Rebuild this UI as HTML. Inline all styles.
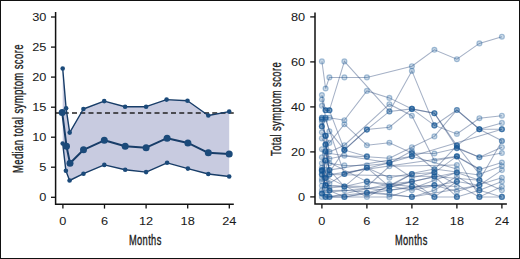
<!DOCTYPE html>
<html><head><meta charset="utf-8"><style>
html,body{margin:0;padding:0;background:#fff;}
#w{position:relative;width:520px;height:259px;overflow:hidden;background:#fff;}
#b{position:absolute;left:0;top:0;width:518px;height:257px;border:1px solid #111;}
svg{position:absolute;left:0;top:0;}
.t{font-family:"Liberation Sans",sans-serif;font-size:11.8px;fill:#1a1a1a;stroke:#1a1a1a;stroke-width:0.05px;}
.c{font-family:"Liberation Sans",sans-serif;font-size:14.5px;letter-spacing:0.6px;fill:#1a1a1a;stroke:#1a1a1a;stroke-width:0.35px;}
</style></head><body><div id="w"><div id="b"></div>
<svg width="520" height="259" viewBox="0 0 520 259">
<polygon points="62.7,68.5 66.1,108.3 69.7,132.6 83.4,109.0 104.2,101.1 125.1,106.7 146.1,106.7 166.6,99.6 187.5,100.8 208.3,115.5 229.2,111.6 229.2,176.5 208.3,174.0 187.9,168.6 167.1,162.8 146.1,172.1 125.2,169.8 104.3,164.9 83.5,173.7 69.6,180.5 65.9,170.8 62.7,143.5" fill="#c8cbe0"/>
<line x1="55.5" y1="113" x2="233.8" y2="113" stroke="#222" stroke-width="1.6" stroke-dasharray="5 3.25" stroke-dashoffset="0"/>
<polyline points="62.7,68.5 66.1,108.3 69.7,132.6 83.4,109.0 104.2,101.1 125.1,106.7 146.1,106.7 166.6,99.6 187.5,100.8 208.3,115.5 229.2,111.6" fill="none" stroke="#183d68" stroke-width="1.4" stroke-linejoin="round"/>
<circle cx="62.7" cy="68.5" r="2.3" fill="#1b4a7a"/>
<circle cx="66.1" cy="108.3" r="2.3" fill="#1b4a7a"/>
<circle cx="69.7" cy="132.6" r="2.3" fill="#1b4a7a"/>
<circle cx="83.4" cy="109" r="2.3" fill="#1b4a7a"/>
<circle cx="104.2" cy="101.1" r="2.3" fill="#1b4a7a"/>
<circle cx="125.1" cy="106.7" r="2.3" fill="#1b4a7a"/>
<circle cx="146.1" cy="106.7" r="2.3" fill="#1b4a7a"/>
<circle cx="166.6" cy="99.6" r="2.3" fill="#1b4a7a"/>
<circle cx="187.5" cy="100.8" r="2.3" fill="#1b4a7a"/>
<circle cx="208.3" cy="115.5" r="2.3" fill="#1b4a7a"/>
<circle cx="229.2" cy="111.6" r="2.3" fill="#1b4a7a"/>
<polyline points="62.7,143.5 65.9,170.8 69.6,180.5 83.5,173.7 104.3,164.9 125.2,169.8 146.1,172.1 167.1,162.8 187.9,168.6 208.3,174.0 229.2,176.5" fill="none" stroke="#183d68" stroke-width="1.4" stroke-linejoin="round"/>
<circle cx="62.7" cy="143.5" r="2.3" fill="#1b4a7a"/>
<circle cx="65.9" cy="170.8" r="2.3" fill="#1b4a7a"/>
<circle cx="69.6" cy="180.5" r="2.3" fill="#1b4a7a"/>
<circle cx="83.5" cy="173.7" r="2.3" fill="#1b4a7a"/>
<circle cx="104.3" cy="164.9" r="2.3" fill="#1b4a7a"/>
<circle cx="125.2" cy="169.8" r="2.3" fill="#1b4a7a"/>
<circle cx="146.1" cy="172.1" r="2.3" fill="#1b4a7a"/>
<circle cx="167.1" cy="162.8" r="2.3" fill="#1b4a7a"/>
<circle cx="187.9" cy="168.6" r="2.3" fill="#1b4a7a"/>
<circle cx="208.3" cy="174" r="2.3" fill="#1b4a7a"/>
<circle cx="229.2" cy="176.5" r="2.3" fill="#1b4a7a"/>
<polyline points="62.2,112.6 66.5,146.2 70.0,163.3 83.5,149.8 104.3,140.3 125.2,146.3 146.1,147.7 167.1,138.2 187.9,142.9 208.3,152.8 229.2,154.0" fill="none" stroke="#183d68" stroke-width="2.0" stroke-linejoin="round"/>
<circle cx="62.2" cy="112.6" r="3.5" fill="#1b4a7a"/>
<circle cx="66.5" cy="146.2" r="3.5" fill="#1b4a7a"/>
<circle cx="70" cy="163.3" r="3.5" fill="#1b4a7a"/>
<circle cx="83.5" cy="149.8" r="3.5" fill="#1b4a7a"/>
<circle cx="104.3" cy="140.3" r="3.5" fill="#1b4a7a"/>
<circle cx="125.2" cy="146.3" r="3.5" fill="#1b4a7a"/>
<circle cx="146.1" cy="147.7" r="3.5" fill="#1b4a7a"/>
<circle cx="167.1" cy="138.2" r="3.5" fill="#1b4a7a"/>
<circle cx="187.9" cy="142.9" r="3.5" fill="#1b4a7a"/>
<circle cx="208.3" cy="152.8" r="3.5" fill="#1b4a7a"/>
<circle cx="229.2" cy="154" r="3.5" fill="#1b4a7a"/>
<path d="M55.6 12 V204.3 H233.8" fill="none" stroke="#111" stroke-width="1.5"/>
<line x1="51" y1="197.3" x2="55.6" y2="197.3" stroke="#111" stroke-width="1.3"/>
<text transform="translate(46.3,201.3) scale(1.08,1)" text-anchor="end" class="t">0</text>
<line x1="51" y1="167.2" x2="55.6" y2="167.2" stroke="#111" stroke-width="1.3"/>
<text transform="translate(46.3,171.2) scale(1.08,1)" text-anchor="end" class="t">5</text>
<line x1="51" y1="137.2" x2="55.6" y2="137.2" stroke="#111" stroke-width="1.3"/>
<text transform="translate(46.3,141.2) scale(1.08,1)" text-anchor="end" class="t">10</text>
<line x1="51" y1="107.2" x2="55.6" y2="107.2" stroke="#111" stroke-width="1.3"/>
<text transform="translate(46.3,111.2) scale(1.08,1)" text-anchor="end" class="t">15</text>
<line x1="51" y1="77.1" x2="55.6" y2="77.1" stroke="#111" stroke-width="1.3"/>
<text transform="translate(46.3,81.1) scale(1.08,1)" text-anchor="end" class="t">20</text>
<line x1="51" y1="47.1" x2="55.6" y2="47.1" stroke="#111" stroke-width="1.3"/>
<text transform="translate(46.3,51.1) scale(1.08,1)" text-anchor="end" class="t">25</text>
<line x1="51" y1="17.0" x2="55.6" y2="17.0" stroke="#111" stroke-width="1.3"/>
<text transform="translate(46.3,21.0) scale(1.08,1)" text-anchor="end" class="t">30</text>
<line x1="62.9" y1="204.3" x2="62.9" y2="208.6" stroke="#111" stroke-width="1.3"/>
<text transform="translate(62.9,224.6) scale(1.08,1)" text-anchor="middle" class="t">0</text>
<line x1="104.5" y1="204.3" x2="104.5" y2="208.6" stroke="#111" stroke-width="1.3"/>
<text transform="translate(104.5,224.6) scale(1.08,1)" text-anchor="middle" class="t">6</text>
<line x1="146.1" y1="204.3" x2="146.1" y2="208.6" stroke="#111" stroke-width="1.3"/>
<text transform="translate(146.1,224.6) scale(1.08,1)" text-anchor="middle" class="t">12</text>
<line x1="187.7" y1="204.3" x2="187.7" y2="208.6" stroke="#111" stroke-width="1.3"/>
<text transform="translate(187.7,224.6) scale(1.08,1)" text-anchor="middle" class="t">18</text>
<line x1="229.3" y1="204.3" x2="229.3" y2="208.6" stroke="#111" stroke-width="1.3"/>
<text transform="translate(229.3,224.6) scale(1.08,1)" text-anchor="middle" class="t">24</text>
<polyline points="321.9,61.4 325.6,88.5 329.4,77.4 344.4,77.4 366.9,77.4 411.9,66.2 434.4,49.8 456.9,59.2 479.4,43.4 501.9,36.7" fill="none" stroke="rgba(40,70,120,0.42)" stroke-width="1.05"/>
<polyline points="321.9,105.8 325.6,110.3 329.4,110.3 344.4,61.4 389.4,111.4 411.9,70.9 434.4,125.4 456.9,110.0 479.4,129.2 501.9,129.2" fill="none" stroke="rgba(40,70,120,0.42)" stroke-width="1.05"/>
<polyline points="321.9,117.7 325.6,117.7 329.4,117.7 344.4,120.2 366.9,90.9 389.4,97.9 411.9,108.9 434.4,113.2 456.9,147.6 479.4,157.3 501.9,153.0" fill="none" stroke="rgba(40,70,120,0.42)" stroke-width="1.05"/>
<polyline points="321.9,95.0 325.6,110.3 329.4,110.3 344.4,149.9 366.9,129.6 389.4,127.2 411.9,108.9 434.4,125.4 456.9,133.9 479.4,118.2 501.9,115.7" fill="none" stroke="rgba(40,70,120,0.42)" stroke-width="1.05"/>
<polyline points="321.9,99.5 325.6,117.7 329.4,131.2 344.4,149.9 366.9,129.6 389.4,111.4 411.9,108.9 434.4,113.2 456.9,145.6 479.4,129.2 501.9,122.9" fill="none" stroke="rgba(40,70,120,0.42)" stroke-width="1.05"/>
<polyline points="321.9,121.8 325.6,135.9 329.4,142.9 344.4,124.2 366.9,145.2 389.4,142.7 411.9,153.0 434.4,153.5 456.9,148.3 479.4,157.3 501.9,147.2" fill="none" stroke="rgba(40,70,120,0.42)" stroke-width="1.05"/>
<polyline points="321.9,126.3 325.6,135.9 329.4,151.9 344.4,145.2 389.4,104.2 411.9,115.7 434.4,160.7 456.9,156.8 479.4,169.5 501.9,162.5" fill="none" stroke="rgba(40,70,120,0.42)" stroke-width="1.05"/>
<polyline points="321.9,132.3 325.6,144.2 329.4,158.7 344.4,155.7 366.9,156.8 389.4,158.2 411.9,147.2 434.4,136.4 456.9,110.0 479.4,129.2 501.9,140.7" fill="none" stroke="rgba(40,70,120,0.42)" stroke-width="1.05"/>
<polyline points="321.9,138.4 325.6,144.2 329.4,163.2 344.4,165.4 366.9,165.4 389.4,163.2 411.9,151.0 434.4,169.5 456.9,145.6 479.4,174.2 501.9,166.1" fill="none" stroke="rgba(40,70,120,0.42)" stroke-width="1.05"/>
<polyline points="321.9,126.5 325.6,119.3 344.4,174.0 389.4,162.7 411.9,156.2 501.9,129.2" fill="none" stroke="rgba(40,70,120,0.42)" stroke-width="1.05"/>
<polyline points="321.9,119.3 325.6,135.7 329.4,174.6 456.9,156.2 479.4,169.0" fill="none" stroke="rgba(40,70,120,0.42)" stroke-width="1.05"/>
<polyline points="321.9,163.2 325.6,151.2 329.4,170.1 411.9,156.2 456.9,169.0" fill="none" stroke="rgba(40,70,120,0.42)" stroke-width="1.05"/>
<polyline points="325.6,144.9 329.4,174.6 434.4,176.4 479.4,180.2 501.9,141.3" fill="none" stroke="rgba(40,70,120,0.42)" stroke-width="1.05"/>
<polyline points="321.9,157.3 325.6,178.0 344.4,150.1 366.9,156.4" fill="none" stroke="rgba(40,70,120,0.42)" stroke-width="1.05"/>
<polyline points="321.9,170.1 325.6,152.8 389.4,162.7 411.9,177.8 434.4,172.6 456.9,156.2 479.4,196.9 501.9,186.6" fill="none" stroke="rgba(40,70,120,0.42)" stroke-width="1.05"/>
<polyline points="321.9,170.1 325.6,185.4 366.9,186.6 389.4,166.3 456.9,165.0" fill="none" stroke="rgba(40,70,120,0.42)" stroke-width="1.05"/>
<polyline points="321.9,181.2 325.6,160.5 329.4,183.4 344.4,174.0 366.9,167.7 389.4,177.8 434.4,169.0 479.4,175.1" fill="none" stroke="rgba(40,70,120,0.42)" stroke-width="1.05"/>
<polyline points="325.6,151.2 329.4,170.1 344.4,186.6 366.9,167.7 389.4,186.6 411.9,181.6 456.9,172.6 479.4,180.2 501.9,190.2" fill="none" stroke="rgba(40,70,120,0.42)" stroke-width="1.05"/>
<polyline points="321.9,149.2 329.4,196.9 389.4,184.1 411.9,181.6 434.4,196.9 456.9,181.6 479.4,185.2 501.9,170.1" fill="none" stroke="rgba(40,70,120,0.42)" stroke-width="1.05"/>
<polyline points="321.9,193.5 325.6,169.9 329.4,187.9 344.4,186.6 366.9,181.6 411.9,186.6 434.4,185.2 456.9,191.5 501.9,177.8" fill="none" stroke="rgba(40,70,120,0.42)" stroke-width="1.05"/>
<polyline points="321.9,174.6 366.9,196.9 411.9,174.0" fill="none" stroke="rgba(40,70,120,0.42)" stroke-width="1.05"/>
<polyline points="321.9,178.9 325.6,160.5 366.9,181.6 411.9,190.2 456.9,181.6" fill="none" stroke="rgba(40,70,120,0.42)" stroke-width="1.05"/>
<polyline points="321.9,185.7 325.6,196.9 329.4,196.9 389.4,196.9 434.4,180.2 456.9,172.6" fill="none" stroke="rgba(40,70,120,0.42)" stroke-width="1.05"/>
<polyline points="321.9,171.0 325.6,185.4 329.4,190.6 344.4,196.9 366.9,192.8 411.9,196.9 479.4,185.2" fill="none" stroke="rgba(40,70,120,0.42)" stroke-width="1.05"/>
<polyline points="321.9,167.7 325.6,185.4 389.4,190.2 411.9,186.6 434.4,196.9 456.9,196.9 479.4,190.2 501.9,181.6" fill="none" stroke="rgba(40,70,120,0.42)" stroke-width="1.05"/>
<polyline points="321.9,174.6 325.6,192.4 389.4,186.6 411.9,174.0 434.4,172.6 479.4,196.9 501.9,196.9" fill="none" stroke="rgba(40,70,120,0.42)" stroke-width="1.05"/>
<polyline points="321.9,196.9 344.4,196.9 389.4,190.2 434.4,185.2 456.9,186.6" fill="none" stroke="rgba(40,70,120,0.42)" stroke-width="1.05"/>
<polyline points="321.9,190.2 325.6,178.0 329.4,190.6 344.4,190.2 389.4,194.0 411.9,196.9 434.4,190.2 456.9,176.4 479.4,190.2 501.9,196.9" fill="none" stroke="rgba(40,70,120,0.42)" stroke-width="1.05"/>
<polyline points="321.9,193.5 325.6,196.9 366.9,192.8 434.4,176.4 456.9,196.9" fill="none" stroke="rgba(40,70,120,0.42)" stroke-width="1.05"/>
<circle cx="321.9" cy="61.4" r="2.45" fill="rgba(20,85,150,0.22)" stroke="rgba(20,85,150,0.35)" stroke-width="1.2"/>
<circle cx="325.6" cy="88.5" r="2.45" fill="rgba(20,85,150,0.22)" stroke="rgba(20,85,150,0.35)" stroke-width="1.2"/>
<circle cx="329.4" cy="77.4" r="2.45" fill="rgba(20,85,150,0.22)" stroke="rgba(20,85,150,0.35)" stroke-width="1.2"/>
<circle cx="344.4" cy="77.4" r="2.45" fill="rgba(20,85,150,0.22)" stroke="rgba(20,85,150,0.35)" stroke-width="1.2"/>
<circle cx="366.9" cy="77.4" r="2.45" fill="rgba(20,85,150,0.22)" stroke="rgba(20,85,150,0.35)" stroke-width="1.2"/>
<circle cx="411.9" cy="66.2" r="2.45" fill="rgba(20,85,150,0.22)" stroke="rgba(20,85,150,0.35)" stroke-width="1.2"/>
<circle cx="434.4" cy="49.8" r="2.45" fill="rgba(20,85,150,0.22)" stroke="rgba(20,85,150,0.35)" stroke-width="1.2"/>
<circle cx="456.9" cy="59.2" r="2.45" fill="rgba(20,85,150,0.22)" stroke="rgba(20,85,150,0.35)" stroke-width="1.2"/>
<circle cx="479.4" cy="43.4" r="2.45" fill="rgba(20,85,150,0.22)" stroke="rgba(20,85,150,0.35)" stroke-width="1.2"/>
<circle cx="501.9" cy="36.7" r="2.45" fill="rgba(20,85,150,0.22)" stroke="rgba(20,85,150,0.35)" stroke-width="1.2"/>
<circle cx="321.9" cy="105.8" r="2.45" fill="rgba(20,85,150,0.22)" stroke="rgba(20,85,150,0.35)" stroke-width="1.2"/>
<circle cx="325.6" cy="110.3" r="2.45" fill="rgba(20,85,150,0.22)" stroke="rgba(20,85,150,0.35)" stroke-width="1.2"/>
<circle cx="329.4" cy="110.3" r="2.45" fill="rgba(20,85,150,0.22)" stroke="rgba(20,85,150,0.35)" stroke-width="1.2"/>
<circle cx="344.4" cy="61.4" r="2.45" fill="rgba(20,85,150,0.22)" stroke="rgba(20,85,150,0.35)" stroke-width="1.2"/>
<circle cx="389.4" cy="111.4" r="2.45" fill="rgba(20,85,150,0.22)" stroke="rgba(20,85,150,0.35)" stroke-width="1.2"/>
<circle cx="411.9" cy="70.9" r="2.45" fill="rgba(20,85,150,0.22)" stroke="rgba(20,85,150,0.35)" stroke-width="1.2"/>
<circle cx="434.4" cy="125.4" r="2.45" fill="rgba(20,85,150,0.22)" stroke="rgba(20,85,150,0.35)" stroke-width="1.2"/>
<circle cx="456.9" cy="110.0" r="2.45" fill="rgba(20,85,150,0.22)" stroke="rgba(20,85,150,0.35)" stroke-width="1.2"/>
<circle cx="479.4" cy="129.2" r="2.45" fill="rgba(20,85,150,0.22)" stroke="rgba(20,85,150,0.35)" stroke-width="1.2"/>
<circle cx="501.9" cy="129.2" r="2.45" fill="rgba(20,85,150,0.22)" stroke="rgba(20,85,150,0.35)" stroke-width="1.2"/>
<circle cx="321.9" cy="117.7" r="2.45" fill="rgba(20,85,150,0.22)" stroke="rgba(20,85,150,0.35)" stroke-width="1.2"/>
<circle cx="325.6" cy="117.7" r="2.45" fill="rgba(20,85,150,0.22)" stroke="rgba(20,85,150,0.35)" stroke-width="1.2"/>
<circle cx="329.4" cy="117.7" r="2.45" fill="rgba(20,85,150,0.22)" stroke="rgba(20,85,150,0.35)" stroke-width="1.2"/>
<circle cx="344.4" cy="120.2" r="2.45" fill="rgba(20,85,150,0.22)" stroke="rgba(20,85,150,0.35)" stroke-width="1.2"/>
<circle cx="366.9" cy="90.9" r="2.45" fill="rgba(20,85,150,0.22)" stroke="rgba(20,85,150,0.35)" stroke-width="1.2"/>
<circle cx="389.4" cy="97.9" r="2.45" fill="rgba(20,85,150,0.22)" stroke="rgba(20,85,150,0.35)" stroke-width="1.2"/>
<circle cx="411.9" cy="108.9" r="2.45" fill="rgba(20,85,150,0.22)" stroke="rgba(20,85,150,0.35)" stroke-width="1.2"/>
<circle cx="434.4" cy="113.2" r="2.45" fill="rgba(20,85,150,0.22)" stroke="rgba(20,85,150,0.35)" stroke-width="1.2"/>
<circle cx="456.9" cy="147.6" r="2.45" fill="rgba(20,85,150,0.22)" stroke="rgba(20,85,150,0.35)" stroke-width="1.2"/>
<circle cx="479.4" cy="157.3" r="2.45" fill="rgba(20,85,150,0.22)" stroke="rgba(20,85,150,0.35)" stroke-width="1.2"/>
<circle cx="501.9" cy="153.0" r="2.45" fill="rgba(20,85,150,0.22)" stroke="rgba(20,85,150,0.35)" stroke-width="1.2"/>
<circle cx="321.9" cy="95.0" r="2.45" fill="rgba(20,85,150,0.22)" stroke="rgba(20,85,150,0.35)" stroke-width="1.2"/>
<circle cx="325.6" cy="110.3" r="2.45" fill="rgba(20,85,150,0.22)" stroke="rgba(20,85,150,0.35)" stroke-width="1.2"/>
<circle cx="329.4" cy="110.3" r="2.45" fill="rgba(20,85,150,0.22)" stroke="rgba(20,85,150,0.35)" stroke-width="1.2"/>
<circle cx="344.4" cy="149.9" r="2.45" fill="rgba(20,85,150,0.22)" stroke="rgba(20,85,150,0.35)" stroke-width="1.2"/>
<circle cx="366.9" cy="129.6" r="2.45" fill="rgba(20,85,150,0.22)" stroke="rgba(20,85,150,0.35)" stroke-width="1.2"/>
<circle cx="389.4" cy="127.2" r="2.45" fill="rgba(20,85,150,0.22)" stroke="rgba(20,85,150,0.35)" stroke-width="1.2"/>
<circle cx="411.9" cy="108.9" r="2.45" fill="rgba(20,85,150,0.22)" stroke="rgba(20,85,150,0.35)" stroke-width="1.2"/>
<circle cx="434.4" cy="125.4" r="2.45" fill="rgba(20,85,150,0.22)" stroke="rgba(20,85,150,0.35)" stroke-width="1.2"/>
<circle cx="456.9" cy="133.9" r="2.45" fill="rgba(20,85,150,0.22)" stroke="rgba(20,85,150,0.35)" stroke-width="1.2"/>
<circle cx="479.4" cy="118.2" r="2.45" fill="rgba(20,85,150,0.22)" stroke="rgba(20,85,150,0.35)" stroke-width="1.2"/>
<circle cx="501.9" cy="115.7" r="2.45" fill="rgba(20,85,150,0.22)" stroke="rgba(20,85,150,0.35)" stroke-width="1.2"/>
<circle cx="321.9" cy="99.5" r="2.45" fill="rgba(20,85,150,0.22)" stroke="rgba(20,85,150,0.35)" stroke-width="1.2"/>
<circle cx="325.6" cy="117.7" r="2.45" fill="rgba(20,85,150,0.22)" stroke="rgba(20,85,150,0.35)" stroke-width="1.2"/>
<circle cx="329.4" cy="131.2" r="2.45" fill="rgba(20,85,150,0.22)" stroke="rgba(20,85,150,0.35)" stroke-width="1.2"/>
<circle cx="344.4" cy="149.9" r="2.45" fill="rgba(20,85,150,0.22)" stroke="rgba(20,85,150,0.35)" stroke-width="1.2"/>
<circle cx="366.9" cy="129.6" r="2.45" fill="rgba(20,85,150,0.22)" stroke="rgba(20,85,150,0.35)" stroke-width="1.2"/>
<circle cx="389.4" cy="111.4" r="2.45" fill="rgba(20,85,150,0.22)" stroke="rgba(20,85,150,0.35)" stroke-width="1.2"/>
<circle cx="411.9" cy="108.9" r="2.45" fill="rgba(20,85,150,0.22)" stroke="rgba(20,85,150,0.35)" stroke-width="1.2"/>
<circle cx="434.4" cy="113.2" r="2.45" fill="rgba(20,85,150,0.22)" stroke="rgba(20,85,150,0.35)" stroke-width="1.2"/>
<circle cx="456.9" cy="145.6" r="2.45" fill="rgba(20,85,150,0.22)" stroke="rgba(20,85,150,0.35)" stroke-width="1.2"/>
<circle cx="479.4" cy="129.2" r="2.45" fill="rgba(20,85,150,0.22)" stroke="rgba(20,85,150,0.35)" stroke-width="1.2"/>
<circle cx="501.9" cy="122.9" r="2.45" fill="rgba(20,85,150,0.22)" stroke="rgba(20,85,150,0.35)" stroke-width="1.2"/>
<circle cx="321.9" cy="121.8" r="2.45" fill="rgba(20,85,150,0.22)" stroke="rgba(20,85,150,0.35)" stroke-width="1.2"/>
<circle cx="325.6" cy="135.9" r="2.45" fill="rgba(20,85,150,0.22)" stroke="rgba(20,85,150,0.35)" stroke-width="1.2"/>
<circle cx="329.4" cy="142.9" r="2.45" fill="rgba(20,85,150,0.22)" stroke="rgba(20,85,150,0.35)" stroke-width="1.2"/>
<circle cx="344.4" cy="124.2" r="2.45" fill="rgba(20,85,150,0.22)" stroke="rgba(20,85,150,0.35)" stroke-width="1.2"/>
<circle cx="366.9" cy="145.2" r="2.45" fill="rgba(20,85,150,0.22)" stroke="rgba(20,85,150,0.35)" stroke-width="1.2"/>
<circle cx="389.4" cy="142.7" r="2.45" fill="rgba(20,85,150,0.22)" stroke="rgba(20,85,150,0.35)" stroke-width="1.2"/>
<circle cx="411.9" cy="153.0" r="2.45" fill="rgba(20,85,150,0.22)" stroke="rgba(20,85,150,0.35)" stroke-width="1.2"/>
<circle cx="434.4" cy="153.5" r="2.45" fill="rgba(20,85,150,0.22)" stroke="rgba(20,85,150,0.35)" stroke-width="1.2"/>
<circle cx="456.9" cy="148.3" r="2.45" fill="rgba(20,85,150,0.22)" stroke="rgba(20,85,150,0.35)" stroke-width="1.2"/>
<circle cx="479.4" cy="157.3" r="2.45" fill="rgba(20,85,150,0.22)" stroke="rgba(20,85,150,0.35)" stroke-width="1.2"/>
<circle cx="501.9" cy="147.2" r="2.45" fill="rgba(20,85,150,0.22)" stroke="rgba(20,85,150,0.35)" stroke-width="1.2"/>
<circle cx="321.9" cy="126.3" r="2.45" fill="rgba(20,85,150,0.22)" stroke="rgba(20,85,150,0.35)" stroke-width="1.2"/>
<circle cx="325.6" cy="135.9" r="2.45" fill="rgba(20,85,150,0.22)" stroke="rgba(20,85,150,0.35)" stroke-width="1.2"/>
<circle cx="329.4" cy="151.9" r="2.45" fill="rgba(20,85,150,0.22)" stroke="rgba(20,85,150,0.35)" stroke-width="1.2"/>
<circle cx="344.4" cy="145.2" r="2.45" fill="rgba(20,85,150,0.22)" stroke="rgba(20,85,150,0.35)" stroke-width="1.2"/>
<circle cx="389.4" cy="104.2" r="2.45" fill="rgba(20,85,150,0.22)" stroke="rgba(20,85,150,0.35)" stroke-width="1.2"/>
<circle cx="411.9" cy="115.7" r="2.45" fill="rgba(20,85,150,0.22)" stroke="rgba(20,85,150,0.35)" stroke-width="1.2"/>
<circle cx="434.4" cy="160.7" r="2.45" fill="rgba(20,85,150,0.22)" stroke="rgba(20,85,150,0.35)" stroke-width="1.2"/>
<circle cx="456.9" cy="156.8" r="2.45" fill="rgba(20,85,150,0.22)" stroke="rgba(20,85,150,0.35)" stroke-width="1.2"/>
<circle cx="479.4" cy="169.5" r="2.45" fill="rgba(20,85,150,0.22)" stroke="rgba(20,85,150,0.35)" stroke-width="1.2"/>
<circle cx="501.9" cy="162.5" r="2.45" fill="rgba(20,85,150,0.22)" stroke="rgba(20,85,150,0.35)" stroke-width="1.2"/>
<circle cx="321.9" cy="132.3" r="2.45" fill="rgba(20,85,150,0.22)" stroke="rgba(20,85,150,0.35)" stroke-width="1.2"/>
<circle cx="325.6" cy="144.2" r="2.45" fill="rgba(20,85,150,0.22)" stroke="rgba(20,85,150,0.35)" stroke-width="1.2"/>
<circle cx="329.4" cy="158.7" r="2.45" fill="rgba(20,85,150,0.22)" stroke="rgba(20,85,150,0.35)" stroke-width="1.2"/>
<circle cx="344.4" cy="155.7" r="2.45" fill="rgba(20,85,150,0.22)" stroke="rgba(20,85,150,0.35)" stroke-width="1.2"/>
<circle cx="366.9" cy="156.8" r="2.45" fill="rgba(20,85,150,0.22)" stroke="rgba(20,85,150,0.35)" stroke-width="1.2"/>
<circle cx="389.4" cy="158.2" r="2.45" fill="rgba(20,85,150,0.22)" stroke="rgba(20,85,150,0.35)" stroke-width="1.2"/>
<circle cx="411.9" cy="147.2" r="2.45" fill="rgba(20,85,150,0.22)" stroke="rgba(20,85,150,0.35)" stroke-width="1.2"/>
<circle cx="434.4" cy="136.4" r="2.45" fill="rgba(20,85,150,0.22)" stroke="rgba(20,85,150,0.35)" stroke-width="1.2"/>
<circle cx="456.9" cy="110.0" r="2.45" fill="rgba(20,85,150,0.22)" stroke="rgba(20,85,150,0.35)" stroke-width="1.2"/>
<circle cx="479.4" cy="129.2" r="2.45" fill="rgba(20,85,150,0.22)" stroke="rgba(20,85,150,0.35)" stroke-width="1.2"/>
<circle cx="501.9" cy="140.7" r="2.45" fill="rgba(20,85,150,0.22)" stroke="rgba(20,85,150,0.35)" stroke-width="1.2"/>
<circle cx="321.9" cy="138.4" r="2.45" fill="rgba(20,85,150,0.22)" stroke="rgba(20,85,150,0.35)" stroke-width="1.2"/>
<circle cx="325.6" cy="144.2" r="2.45" fill="rgba(20,85,150,0.22)" stroke="rgba(20,85,150,0.35)" stroke-width="1.2"/>
<circle cx="329.4" cy="163.2" r="2.45" fill="rgba(20,85,150,0.22)" stroke="rgba(20,85,150,0.35)" stroke-width="1.2"/>
<circle cx="344.4" cy="165.4" r="2.45" fill="rgba(20,85,150,0.22)" stroke="rgba(20,85,150,0.35)" stroke-width="1.2"/>
<circle cx="366.9" cy="165.4" r="2.45" fill="rgba(20,85,150,0.22)" stroke="rgba(20,85,150,0.35)" stroke-width="1.2"/>
<circle cx="389.4" cy="163.2" r="2.45" fill="rgba(20,85,150,0.22)" stroke="rgba(20,85,150,0.35)" stroke-width="1.2"/>
<circle cx="411.9" cy="151.0" r="2.45" fill="rgba(20,85,150,0.22)" stroke="rgba(20,85,150,0.35)" stroke-width="1.2"/>
<circle cx="434.4" cy="169.5" r="2.45" fill="rgba(20,85,150,0.22)" stroke="rgba(20,85,150,0.35)" stroke-width="1.2"/>
<circle cx="456.9" cy="145.6" r="2.45" fill="rgba(20,85,150,0.22)" stroke="rgba(20,85,150,0.35)" stroke-width="1.2"/>
<circle cx="479.4" cy="174.2" r="2.45" fill="rgba(20,85,150,0.22)" stroke="rgba(20,85,150,0.35)" stroke-width="1.2"/>
<circle cx="501.9" cy="166.1" r="2.45" fill="rgba(20,85,150,0.22)" stroke="rgba(20,85,150,0.35)" stroke-width="1.2"/>
<circle cx="321.9" cy="126.5" r="2.45" fill="rgba(20,85,150,0.22)" stroke="rgba(20,85,150,0.35)" stroke-width="1.2"/>
<circle cx="325.6" cy="119.3" r="2.45" fill="rgba(20,85,150,0.22)" stroke="rgba(20,85,150,0.35)" stroke-width="1.2"/>
<circle cx="344.4" cy="174.0" r="2.45" fill="rgba(20,85,150,0.22)" stroke="rgba(20,85,150,0.35)" stroke-width="1.2"/>
<circle cx="389.4" cy="162.7" r="2.45" fill="rgba(20,85,150,0.22)" stroke="rgba(20,85,150,0.35)" stroke-width="1.2"/>
<circle cx="411.9" cy="156.2" r="2.45" fill="rgba(20,85,150,0.22)" stroke="rgba(20,85,150,0.35)" stroke-width="1.2"/>
<circle cx="501.9" cy="129.2" r="2.45" fill="rgba(20,85,150,0.22)" stroke="rgba(20,85,150,0.35)" stroke-width="1.2"/>
<circle cx="321.9" cy="119.3" r="2.45" fill="rgba(20,85,150,0.22)" stroke="rgba(20,85,150,0.35)" stroke-width="1.2"/>
<circle cx="325.6" cy="135.7" r="2.45" fill="rgba(20,85,150,0.22)" stroke="rgba(20,85,150,0.35)" stroke-width="1.2"/>
<circle cx="329.4" cy="174.6" r="2.45" fill="rgba(20,85,150,0.22)" stroke="rgba(20,85,150,0.35)" stroke-width="1.2"/>
<circle cx="456.9" cy="156.2" r="2.45" fill="rgba(20,85,150,0.22)" stroke="rgba(20,85,150,0.35)" stroke-width="1.2"/>
<circle cx="479.4" cy="169.0" r="2.45" fill="rgba(20,85,150,0.22)" stroke="rgba(20,85,150,0.35)" stroke-width="1.2"/>
<circle cx="321.9" cy="163.2" r="2.45" fill="rgba(20,85,150,0.22)" stroke="rgba(20,85,150,0.35)" stroke-width="1.2"/>
<circle cx="325.6" cy="151.2" r="2.45" fill="rgba(20,85,150,0.22)" stroke="rgba(20,85,150,0.35)" stroke-width="1.2"/>
<circle cx="329.4" cy="170.1" r="2.45" fill="rgba(20,85,150,0.22)" stroke="rgba(20,85,150,0.35)" stroke-width="1.2"/>
<circle cx="411.9" cy="156.2" r="2.45" fill="rgba(20,85,150,0.22)" stroke="rgba(20,85,150,0.35)" stroke-width="1.2"/>
<circle cx="456.9" cy="169.0" r="2.45" fill="rgba(20,85,150,0.22)" stroke="rgba(20,85,150,0.35)" stroke-width="1.2"/>
<circle cx="325.6" cy="144.9" r="2.45" fill="rgba(20,85,150,0.22)" stroke="rgba(20,85,150,0.35)" stroke-width="1.2"/>
<circle cx="329.4" cy="174.6" r="2.45" fill="rgba(20,85,150,0.22)" stroke="rgba(20,85,150,0.35)" stroke-width="1.2"/>
<circle cx="434.4" cy="176.4" r="2.45" fill="rgba(20,85,150,0.22)" stroke="rgba(20,85,150,0.35)" stroke-width="1.2"/>
<circle cx="479.4" cy="180.2" r="2.45" fill="rgba(20,85,150,0.22)" stroke="rgba(20,85,150,0.35)" stroke-width="1.2"/>
<circle cx="501.9" cy="141.3" r="2.45" fill="rgba(20,85,150,0.22)" stroke="rgba(20,85,150,0.35)" stroke-width="1.2"/>
<circle cx="321.9" cy="157.3" r="2.45" fill="rgba(20,85,150,0.22)" stroke="rgba(20,85,150,0.35)" stroke-width="1.2"/>
<circle cx="325.6" cy="178.0" r="2.45" fill="rgba(20,85,150,0.22)" stroke="rgba(20,85,150,0.35)" stroke-width="1.2"/>
<circle cx="344.4" cy="150.1" r="2.45" fill="rgba(20,85,150,0.22)" stroke="rgba(20,85,150,0.35)" stroke-width="1.2"/>
<circle cx="366.9" cy="156.4" r="2.45" fill="rgba(20,85,150,0.22)" stroke="rgba(20,85,150,0.35)" stroke-width="1.2"/>
<circle cx="321.9" cy="170.1" r="2.45" fill="rgba(20,85,150,0.22)" stroke="rgba(20,85,150,0.35)" stroke-width="1.2"/>
<circle cx="325.6" cy="152.8" r="2.45" fill="rgba(20,85,150,0.22)" stroke="rgba(20,85,150,0.35)" stroke-width="1.2"/>
<circle cx="389.4" cy="162.7" r="2.45" fill="rgba(20,85,150,0.22)" stroke="rgba(20,85,150,0.35)" stroke-width="1.2"/>
<circle cx="411.9" cy="177.8" r="2.45" fill="rgba(20,85,150,0.22)" stroke="rgba(20,85,150,0.35)" stroke-width="1.2"/>
<circle cx="434.4" cy="172.6" r="2.45" fill="rgba(20,85,150,0.22)" stroke="rgba(20,85,150,0.35)" stroke-width="1.2"/>
<circle cx="456.9" cy="156.2" r="2.45" fill="rgba(20,85,150,0.22)" stroke="rgba(20,85,150,0.35)" stroke-width="1.2"/>
<circle cx="479.4" cy="196.9" r="2.45" fill="rgba(20,85,150,0.22)" stroke="rgba(20,85,150,0.35)" stroke-width="1.2"/>
<circle cx="501.9" cy="186.6" r="2.45" fill="rgba(20,85,150,0.22)" stroke="rgba(20,85,150,0.35)" stroke-width="1.2"/>
<circle cx="321.9" cy="170.1" r="2.45" fill="rgba(20,85,150,0.22)" stroke="rgba(20,85,150,0.35)" stroke-width="1.2"/>
<circle cx="325.6" cy="185.4" r="2.45" fill="rgba(20,85,150,0.22)" stroke="rgba(20,85,150,0.35)" stroke-width="1.2"/>
<circle cx="366.9" cy="186.6" r="2.45" fill="rgba(20,85,150,0.22)" stroke="rgba(20,85,150,0.35)" stroke-width="1.2"/>
<circle cx="389.4" cy="166.3" r="2.45" fill="rgba(20,85,150,0.22)" stroke="rgba(20,85,150,0.35)" stroke-width="1.2"/>
<circle cx="456.9" cy="165.0" r="2.45" fill="rgba(20,85,150,0.22)" stroke="rgba(20,85,150,0.35)" stroke-width="1.2"/>
<circle cx="321.9" cy="181.2" r="2.45" fill="rgba(20,85,150,0.22)" stroke="rgba(20,85,150,0.35)" stroke-width="1.2"/>
<circle cx="325.6" cy="160.5" r="2.45" fill="rgba(20,85,150,0.22)" stroke="rgba(20,85,150,0.35)" stroke-width="1.2"/>
<circle cx="329.4" cy="183.4" r="2.45" fill="rgba(20,85,150,0.22)" stroke="rgba(20,85,150,0.35)" stroke-width="1.2"/>
<circle cx="344.4" cy="174.0" r="2.45" fill="rgba(20,85,150,0.22)" stroke="rgba(20,85,150,0.35)" stroke-width="1.2"/>
<circle cx="366.9" cy="167.7" r="2.45" fill="rgba(20,85,150,0.22)" stroke="rgba(20,85,150,0.35)" stroke-width="1.2"/>
<circle cx="389.4" cy="177.8" r="2.45" fill="rgba(20,85,150,0.22)" stroke="rgba(20,85,150,0.35)" stroke-width="1.2"/>
<circle cx="434.4" cy="169.0" r="2.45" fill="rgba(20,85,150,0.22)" stroke="rgba(20,85,150,0.35)" stroke-width="1.2"/>
<circle cx="479.4" cy="175.1" r="2.45" fill="rgba(20,85,150,0.22)" stroke="rgba(20,85,150,0.35)" stroke-width="1.2"/>
<circle cx="325.6" cy="151.2" r="2.45" fill="rgba(20,85,150,0.22)" stroke="rgba(20,85,150,0.35)" stroke-width="1.2"/>
<circle cx="329.4" cy="170.1" r="2.45" fill="rgba(20,85,150,0.22)" stroke="rgba(20,85,150,0.35)" stroke-width="1.2"/>
<circle cx="344.4" cy="186.6" r="2.45" fill="rgba(20,85,150,0.22)" stroke="rgba(20,85,150,0.35)" stroke-width="1.2"/>
<circle cx="366.9" cy="167.7" r="2.45" fill="rgba(20,85,150,0.22)" stroke="rgba(20,85,150,0.35)" stroke-width="1.2"/>
<circle cx="389.4" cy="186.6" r="2.45" fill="rgba(20,85,150,0.22)" stroke="rgba(20,85,150,0.35)" stroke-width="1.2"/>
<circle cx="411.9" cy="181.6" r="2.45" fill="rgba(20,85,150,0.22)" stroke="rgba(20,85,150,0.35)" stroke-width="1.2"/>
<circle cx="456.9" cy="172.6" r="2.45" fill="rgba(20,85,150,0.22)" stroke="rgba(20,85,150,0.35)" stroke-width="1.2"/>
<circle cx="479.4" cy="180.2" r="2.45" fill="rgba(20,85,150,0.22)" stroke="rgba(20,85,150,0.35)" stroke-width="1.2"/>
<circle cx="501.9" cy="190.2" r="2.45" fill="rgba(20,85,150,0.22)" stroke="rgba(20,85,150,0.35)" stroke-width="1.2"/>
<circle cx="321.9" cy="149.2" r="2.45" fill="rgba(20,85,150,0.22)" stroke="rgba(20,85,150,0.35)" stroke-width="1.2"/>
<circle cx="329.4" cy="196.9" r="2.45" fill="rgba(20,85,150,0.22)" stroke="rgba(20,85,150,0.35)" stroke-width="1.2"/>
<circle cx="389.4" cy="184.1" r="2.45" fill="rgba(20,85,150,0.22)" stroke="rgba(20,85,150,0.35)" stroke-width="1.2"/>
<circle cx="411.9" cy="181.6" r="2.45" fill="rgba(20,85,150,0.22)" stroke="rgba(20,85,150,0.35)" stroke-width="1.2"/>
<circle cx="434.4" cy="196.9" r="2.45" fill="rgba(20,85,150,0.22)" stroke="rgba(20,85,150,0.35)" stroke-width="1.2"/>
<circle cx="456.9" cy="181.6" r="2.45" fill="rgba(20,85,150,0.22)" stroke="rgba(20,85,150,0.35)" stroke-width="1.2"/>
<circle cx="479.4" cy="185.2" r="2.45" fill="rgba(20,85,150,0.22)" stroke="rgba(20,85,150,0.35)" stroke-width="1.2"/>
<circle cx="501.9" cy="170.1" r="2.45" fill="rgba(20,85,150,0.22)" stroke="rgba(20,85,150,0.35)" stroke-width="1.2"/>
<circle cx="321.9" cy="193.5" r="2.45" fill="rgba(20,85,150,0.22)" stroke="rgba(20,85,150,0.35)" stroke-width="1.2"/>
<circle cx="325.6" cy="169.9" r="2.45" fill="rgba(20,85,150,0.22)" stroke="rgba(20,85,150,0.35)" stroke-width="1.2"/>
<circle cx="329.4" cy="187.9" r="2.45" fill="rgba(20,85,150,0.22)" stroke="rgba(20,85,150,0.35)" stroke-width="1.2"/>
<circle cx="344.4" cy="186.6" r="2.45" fill="rgba(20,85,150,0.22)" stroke="rgba(20,85,150,0.35)" stroke-width="1.2"/>
<circle cx="366.9" cy="181.6" r="2.45" fill="rgba(20,85,150,0.22)" stroke="rgba(20,85,150,0.35)" stroke-width="1.2"/>
<circle cx="411.9" cy="186.6" r="2.45" fill="rgba(20,85,150,0.22)" stroke="rgba(20,85,150,0.35)" stroke-width="1.2"/>
<circle cx="434.4" cy="185.2" r="2.45" fill="rgba(20,85,150,0.22)" stroke="rgba(20,85,150,0.35)" stroke-width="1.2"/>
<circle cx="456.9" cy="191.5" r="2.45" fill="rgba(20,85,150,0.22)" stroke="rgba(20,85,150,0.35)" stroke-width="1.2"/>
<circle cx="501.9" cy="177.8" r="2.45" fill="rgba(20,85,150,0.22)" stroke="rgba(20,85,150,0.35)" stroke-width="1.2"/>
<circle cx="321.9" cy="174.6" r="2.45" fill="rgba(20,85,150,0.22)" stroke="rgba(20,85,150,0.35)" stroke-width="1.2"/>
<circle cx="366.9" cy="196.9" r="2.45" fill="rgba(20,85,150,0.22)" stroke="rgba(20,85,150,0.35)" stroke-width="1.2"/>
<circle cx="411.9" cy="174.0" r="2.45" fill="rgba(20,85,150,0.22)" stroke="rgba(20,85,150,0.35)" stroke-width="1.2"/>
<circle cx="321.9" cy="178.9" r="2.45" fill="rgba(20,85,150,0.22)" stroke="rgba(20,85,150,0.35)" stroke-width="1.2"/>
<circle cx="325.6" cy="160.5" r="2.45" fill="rgba(20,85,150,0.22)" stroke="rgba(20,85,150,0.35)" stroke-width="1.2"/>
<circle cx="366.9" cy="181.6" r="2.45" fill="rgba(20,85,150,0.22)" stroke="rgba(20,85,150,0.35)" stroke-width="1.2"/>
<circle cx="411.9" cy="190.2" r="2.45" fill="rgba(20,85,150,0.22)" stroke="rgba(20,85,150,0.35)" stroke-width="1.2"/>
<circle cx="456.9" cy="181.6" r="2.45" fill="rgba(20,85,150,0.22)" stroke="rgba(20,85,150,0.35)" stroke-width="1.2"/>
<circle cx="321.9" cy="185.7" r="2.45" fill="rgba(20,85,150,0.22)" stroke="rgba(20,85,150,0.35)" stroke-width="1.2"/>
<circle cx="325.6" cy="196.9" r="2.45" fill="rgba(20,85,150,0.22)" stroke="rgba(20,85,150,0.35)" stroke-width="1.2"/>
<circle cx="329.4" cy="196.9" r="2.45" fill="rgba(20,85,150,0.22)" stroke="rgba(20,85,150,0.35)" stroke-width="1.2"/>
<circle cx="389.4" cy="196.9" r="2.45" fill="rgba(20,85,150,0.22)" stroke="rgba(20,85,150,0.35)" stroke-width="1.2"/>
<circle cx="434.4" cy="180.2" r="2.45" fill="rgba(20,85,150,0.22)" stroke="rgba(20,85,150,0.35)" stroke-width="1.2"/>
<circle cx="456.9" cy="172.6" r="2.45" fill="rgba(20,85,150,0.22)" stroke="rgba(20,85,150,0.35)" stroke-width="1.2"/>
<circle cx="321.9" cy="171.0" r="2.45" fill="rgba(20,85,150,0.22)" stroke="rgba(20,85,150,0.35)" stroke-width="1.2"/>
<circle cx="325.6" cy="185.4" r="2.45" fill="rgba(20,85,150,0.22)" stroke="rgba(20,85,150,0.35)" stroke-width="1.2"/>
<circle cx="329.4" cy="190.6" r="2.45" fill="rgba(20,85,150,0.22)" stroke="rgba(20,85,150,0.35)" stroke-width="1.2"/>
<circle cx="344.4" cy="196.9" r="2.45" fill="rgba(20,85,150,0.22)" stroke="rgba(20,85,150,0.35)" stroke-width="1.2"/>
<circle cx="366.9" cy="192.8" r="2.45" fill="rgba(20,85,150,0.22)" stroke="rgba(20,85,150,0.35)" stroke-width="1.2"/>
<circle cx="411.9" cy="196.9" r="2.45" fill="rgba(20,85,150,0.22)" stroke="rgba(20,85,150,0.35)" stroke-width="1.2"/>
<circle cx="479.4" cy="185.2" r="2.45" fill="rgba(20,85,150,0.22)" stroke="rgba(20,85,150,0.35)" stroke-width="1.2"/>
<circle cx="321.9" cy="167.7" r="2.45" fill="rgba(20,85,150,0.22)" stroke="rgba(20,85,150,0.35)" stroke-width="1.2"/>
<circle cx="325.6" cy="185.4" r="2.45" fill="rgba(20,85,150,0.22)" stroke="rgba(20,85,150,0.35)" stroke-width="1.2"/>
<circle cx="389.4" cy="190.2" r="2.45" fill="rgba(20,85,150,0.22)" stroke="rgba(20,85,150,0.35)" stroke-width="1.2"/>
<circle cx="411.9" cy="186.6" r="2.45" fill="rgba(20,85,150,0.22)" stroke="rgba(20,85,150,0.35)" stroke-width="1.2"/>
<circle cx="434.4" cy="196.9" r="2.45" fill="rgba(20,85,150,0.22)" stroke="rgba(20,85,150,0.35)" stroke-width="1.2"/>
<circle cx="456.9" cy="196.9" r="2.45" fill="rgba(20,85,150,0.22)" stroke="rgba(20,85,150,0.35)" stroke-width="1.2"/>
<circle cx="479.4" cy="190.2" r="2.45" fill="rgba(20,85,150,0.22)" stroke="rgba(20,85,150,0.35)" stroke-width="1.2"/>
<circle cx="501.9" cy="181.6" r="2.45" fill="rgba(20,85,150,0.22)" stroke="rgba(20,85,150,0.35)" stroke-width="1.2"/>
<circle cx="321.9" cy="174.6" r="2.45" fill="rgba(20,85,150,0.22)" stroke="rgba(20,85,150,0.35)" stroke-width="1.2"/>
<circle cx="325.6" cy="192.4" r="2.45" fill="rgba(20,85,150,0.22)" stroke="rgba(20,85,150,0.35)" stroke-width="1.2"/>
<circle cx="389.4" cy="186.6" r="2.45" fill="rgba(20,85,150,0.22)" stroke="rgba(20,85,150,0.35)" stroke-width="1.2"/>
<circle cx="411.9" cy="174.0" r="2.45" fill="rgba(20,85,150,0.22)" stroke="rgba(20,85,150,0.35)" stroke-width="1.2"/>
<circle cx="434.4" cy="172.6" r="2.45" fill="rgba(20,85,150,0.22)" stroke="rgba(20,85,150,0.35)" stroke-width="1.2"/>
<circle cx="479.4" cy="196.9" r="2.45" fill="rgba(20,85,150,0.22)" stroke="rgba(20,85,150,0.35)" stroke-width="1.2"/>
<circle cx="501.9" cy="196.9" r="2.45" fill="rgba(20,85,150,0.22)" stroke="rgba(20,85,150,0.35)" stroke-width="1.2"/>
<circle cx="321.9" cy="196.9" r="2.45" fill="rgba(20,85,150,0.22)" stroke="rgba(20,85,150,0.35)" stroke-width="1.2"/>
<circle cx="344.4" cy="196.9" r="2.45" fill="rgba(20,85,150,0.22)" stroke="rgba(20,85,150,0.35)" stroke-width="1.2"/>
<circle cx="389.4" cy="190.2" r="2.45" fill="rgba(20,85,150,0.22)" stroke="rgba(20,85,150,0.35)" stroke-width="1.2"/>
<circle cx="434.4" cy="185.2" r="2.45" fill="rgba(20,85,150,0.22)" stroke="rgba(20,85,150,0.35)" stroke-width="1.2"/>
<circle cx="456.9" cy="186.6" r="2.45" fill="rgba(20,85,150,0.22)" stroke="rgba(20,85,150,0.35)" stroke-width="1.2"/>
<circle cx="321.9" cy="190.2" r="2.45" fill="rgba(20,85,150,0.22)" stroke="rgba(20,85,150,0.35)" stroke-width="1.2"/>
<circle cx="325.6" cy="178.0" r="2.45" fill="rgba(20,85,150,0.22)" stroke="rgba(20,85,150,0.35)" stroke-width="1.2"/>
<circle cx="329.4" cy="190.6" r="2.45" fill="rgba(20,85,150,0.22)" stroke="rgba(20,85,150,0.35)" stroke-width="1.2"/>
<circle cx="344.4" cy="190.2" r="2.45" fill="rgba(20,85,150,0.22)" stroke="rgba(20,85,150,0.35)" stroke-width="1.2"/>
<circle cx="389.4" cy="194.0" r="2.45" fill="rgba(20,85,150,0.22)" stroke="rgba(20,85,150,0.35)" stroke-width="1.2"/>
<circle cx="411.9" cy="196.9" r="2.45" fill="rgba(20,85,150,0.22)" stroke="rgba(20,85,150,0.35)" stroke-width="1.2"/>
<circle cx="434.4" cy="190.2" r="2.45" fill="rgba(20,85,150,0.22)" stroke="rgba(20,85,150,0.35)" stroke-width="1.2"/>
<circle cx="456.9" cy="176.4" r="2.45" fill="rgba(20,85,150,0.22)" stroke="rgba(20,85,150,0.35)" stroke-width="1.2"/>
<circle cx="479.4" cy="190.2" r="2.45" fill="rgba(20,85,150,0.22)" stroke="rgba(20,85,150,0.35)" stroke-width="1.2"/>
<circle cx="501.9" cy="196.9" r="2.45" fill="rgba(20,85,150,0.22)" stroke="rgba(20,85,150,0.35)" stroke-width="1.2"/>
<circle cx="321.9" cy="193.5" r="2.45" fill="rgba(20,85,150,0.22)" stroke="rgba(20,85,150,0.35)" stroke-width="1.2"/>
<circle cx="325.6" cy="196.9" r="2.45" fill="rgba(20,85,150,0.22)" stroke="rgba(20,85,150,0.35)" stroke-width="1.2"/>
<circle cx="366.9" cy="192.8" r="2.45" fill="rgba(20,85,150,0.22)" stroke="rgba(20,85,150,0.35)" stroke-width="1.2"/>
<circle cx="434.4" cy="176.4" r="2.45" fill="rgba(20,85,150,0.22)" stroke="rgba(20,85,150,0.35)" stroke-width="1.2"/>
<circle cx="456.9" cy="196.9" r="2.45" fill="rgba(20,85,150,0.22)" stroke="rgba(20,85,150,0.35)" stroke-width="1.2"/>
<circle cx="321.9" cy="119.3" r="2.45" fill="rgba(20,85,150,0.22)" stroke="rgba(20,85,150,0.35)" stroke-width="1.2"/>
<circle cx="321.9" cy="126.5" r="2.45" fill="rgba(20,85,150,0.22)" stroke="rgba(20,85,150,0.35)" stroke-width="1.2"/>
<circle cx="321.9" cy="170.1" r="2.45" fill="rgba(20,85,150,0.22)" stroke="rgba(20,85,150,0.35)" stroke-width="1.2"/>
<circle cx="321.9" cy="171.0" r="2.45" fill="rgba(20,85,150,0.22)" stroke="rgba(20,85,150,0.35)" stroke-width="1.2"/>
<circle cx="321.9" cy="174.6" r="2.45" fill="rgba(20,85,150,0.22)" stroke="rgba(20,85,150,0.35)" stroke-width="1.2"/>
<circle cx="321.9" cy="193.5" r="2.45" fill="rgba(20,85,150,0.22)" stroke="rgba(20,85,150,0.35)" stroke-width="1.2"/>
<circle cx="321.9" cy="117.7" r="2.45" fill="rgba(20,85,150,0.22)" stroke="rgba(20,85,150,0.35)" stroke-width="1.2"/>
<circle cx="325.6" cy="110.3" r="2.45" fill="rgba(20,85,150,0.22)" stroke="rgba(20,85,150,0.35)" stroke-width="1.2"/>
<circle cx="325.6" cy="135.7" r="2.45" fill="rgba(20,85,150,0.22)" stroke="rgba(20,85,150,0.35)" stroke-width="1.2"/>
<circle cx="325.6" cy="144.9" r="2.45" fill="rgba(20,85,150,0.22)" stroke="rgba(20,85,150,0.35)" stroke-width="1.2"/>
<circle cx="325.6" cy="151.2" r="2.45" fill="rgba(20,85,150,0.22)" stroke="rgba(20,85,150,0.35)" stroke-width="1.2"/>
<circle cx="325.6" cy="160.5" r="2.45" fill="rgba(20,85,150,0.22)" stroke="rgba(20,85,150,0.35)" stroke-width="1.2"/>
<circle cx="325.6" cy="178.0" r="2.45" fill="rgba(20,85,150,0.22)" stroke="rgba(20,85,150,0.35)" stroke-width="1.2"/>
<circle cx="325.6" cy="185.4" r="2.45" fill="rgba(20,85,150,0.22)" stroke="rgba(20,85,150,0.35)" stroke-width="1.2"/>
<circle cx="325.6" cy="196.9" r="2.45" fill="rgba(20,85,150,0.22)" stroke="rgba(20,85,150,0.35)" stroke-width="1.2"/>
<circle cx="329.4" cy="110.3" r="2.45" fill="rgba(20,85,150,0.22)" stroke="rgba(20,85,150,0.35)" stroke-width="1.2"/>
<circle cx="329.4" cy="170.1" r="2.45" fill="rgba(20,85,150,0.22)" stroke="rgba(20,85,150,0.35)" stroke-width="1.2"/>
<circle cx="329.4" cy="174.6" r="2.45" fill="rgba(20,85,150,0.22)" stroke="rgba(20,85,150,0.35)" stroke-width="1.2"/>
<circle cx="329.4" cy="190.6" r="2.45" fill="rgba(20,85,150,0.22)" stroke="rgba(20,85,150,0.35)" stroke-width="1.2"/>
<circle cx="329.4" cy="196.9" r="2.45" fill="rgba(20,85,150,0.22)" stroke="rgba(20,85,150,0.35)" stroke-width="1.2"/>
<circle cx="344.4" cy="150.1" r="2.45" fill="rgba(20,85,150,0.22)" stroke="rgba(20,85,150,0.35)" stroke-width="1.2"/>
<circle cx="344.4" cy="174.0" r="2.45" fill="rgba(20,85,150,0.22)" stroke="rgba(20,85,150,0.35)" stroke-width="1.2"/>
<circle cx="344.4" cy="186.6" r="2.45" fill="rgba(20,85,150,0.22)" stroke="rgba(20,85,150,0.35)" stroke-width="1.2"/>
<circle cx="344.4" cy="196.9" r="2.45" fill="rgba(20,85,150,0.22)" stroke="rgba(20,85,150,0.35)" stroke-width="1.2"/>
<circle cx="366.9" cy="129.6" r="2.45" fill="rgba(20,85,150,0.22)" stroke="rgba(20,85,150,0.35)" stroke-width="1.2"/>
<circle cx="366.9" cy="156.4" r="2.45" fill="rgba(20,85,150,0.22)" stroke="rgba(20,85,150,0.35)" stroke-width="1.2"/>
<circle cx="366.9" cy="167.7" r="2.45" fill="rgba(20,85,150,0.22)" stroke="rgba(20,85,150,0.35)" stroke-width="1.2"/>
<circle cx="366.9" cy="181.6" r="2.45" fill="rgba(20,85,150,0.22)" stroke="rgba(20,85,150,0.35)" stroke-width="1.2"/>
<circle cx="366.9" cy="192.8" r="2.45" fill="rgba(20,85,150,0.22)" stroke="rgba(20,85,150,0.35)" stroke-width="1.2"/>
<circle cx="389.4" cy="162.7" r="2.45" fill="rgba(20,85,150,0.22)" stroke="rgba(20,85,150,0.35)" stroke-width="1.2"/>
<circle cx="389.4" cy="186.6" r="2.45" fill="rgba(20,85,150,0.22)" stroke="rgba(20,85,150,0.35)" stroke-width="1.2"/>
<circle cx="389.4" cy="190.2" r="2.45" fill="rgba(20,85,150,0.22)" stroke="rgba(20,85,150,0.35)" stroke-width="1.2"/>
<circle cx="411.9" cy="108.9" r="2.45" fill="rgba(20,85,150,0.22)" stroke="rgba(20,85,150,0.35)" stroke-width="1.2"/>
<circle cx="411.9" cy="153.0" r="2.45" fill="rgba(20,85,150,0.22)" stroke="rgba(20,85,150,0.35)" stroke-width="1.2"/>
<circle cx="411.9" cy="156.2" r="2.45" fill="rgba(20,85,150,0.22)" stroke="rgba(20,85,150,0.35)" stroke-width="1.2"/>
<circle cx="411.9" cy="174.0" r="2.45" fill="rgba(20,85,150,0.22)" stroke="rgba(20,85,150,0.35)" stroke-width="1.2"/>
<circle cx="411.9" cy="181.6" r="2.45" fill="rgba(20,85,150,0.22)" stroke="rgba(20,85,150,0.35)" stroke-width="1.2"/>
<circle cx="411.9" cy="186.6" r="2.45" fill="rgba(20,85,150,0.22)" stroke="rgba(20,85,150,0.35)" stroke-width="1.2"/>
<circle cx="411.9" cy="196.9" r="2.45" fill="rgba(20,85,150,0.22)" stroke="rgba(20,85,150,0.35)" stroke-width="1.2"/>
<circle cx="434.4" cy="113.2" r="2.45" fill="rgba(20,85,150,0.22)" stroke="rgba(20,85,150,0.35)" stroke-width="1.2"/>
<circle cx="434.4" cy="125.4" r="2.45" fill="rgba(20,85,150,0.22)" stroke="rgba(20,85,150,0.35)" stroke-width="1.2"/>
<circle cx="434.4" cy="172.6" r="2.45" fill="rgba(20,85,150,0.22)" stroke="rgba(20,85,150,0.35)" stroke-width="1.2"/>
<circle cx="434.4" cy="176.4" r="2.45" fill="rgba(20,85,150,0.22)" stroke="rgba(20,85,150,0.35)" stroke-width="1.2"/>
<circle cx="434.4" cy="185.2" r="2.45" fill="rgba(20,85,150,0.22)" stroke="rgba(20,85,150,0.35)" stroke-width="1.2"/>
<circle cx="434.4" cy="196.9" r="2.45" fill="rgba(20,85,150,0.22)" stroke="rgba(20,85,150,0.35)" stroke-width="1.2"/>
<circle cx="456.9" cy="148.3" r="2.45" fill="rgba(20,85,150,0.22)" stroke="rgba(20,85,150,0.35)" stroke-width="1.2"/>
<circle cx="456.9" cy="145.6" r="2.45" fill="rgba(20,85,150,0.22)" stroke="rgba(20,85,150,0.35)" stroke-width="1.2"/>
<circle cx="456.9" cy="156.2" r="2.45" fill="rgba(20,85,150,0.22)" stroke="rgba(20,85,150,0.35)" stroke-width="1.2"/>
<circle cx="456.9" cy="172.6" r="2.45" fill="rgba(20,85,150,0.22)" stroke="rgba(20,85,150,0.35)" stroke-width="1.2"/>
<circle cx="456.9" cy="181.6" r="2.45" fill="rgba(20,85,150,0.22)" stroke="rgba(20,85,150,0.35)" stroke-width="1.2"/>
<circle cx="456.9" cy="196.9" r="2.45" fill="rgba(20,85,150,0.22)" stroke="rgba(20,85,150,0.35)" stroke-width="1.2"/>
<circle cx="479.4" cy="129.2" r="2.45" fill="rgba(20,85,150,0.22)" stroke="rgba(20,85,150,0.35)" stroke-width="1.2"/>
<circle cx="479.4" cy="180.2" r="2.45" fill="rgba(20,85,150,0.22)" stroke="rgba(20,85,150,0.35)" stroke-width="1.2"/>
<circle cx="479.4" cy="185.2" r="2.45" fill="rgba(20,85,150,0.22)" stroke="rgba(20,85,150,0.35)" stroke-width="1.2"/>
<circle cx="479.4" cy="190.2" r="2.45" fill="rgba(20,85,150,0.22)" stroke="rgba(20,85,150,0.35)" stroke-width="1.2"/>
<circle cx="479.4" cy="196.9" r="2.45" fill="rgba(20,85,150,0.22)" stroke="rgba(20,85,150,0.35)" stroke-width="1.2"/>
<circle cx="501.9" cy="129.2" r="2.45" fill="rgba(20,85,150,0.22)" stroke="rgba(20,85,150,0.35)" stroke-width="1.2"/>
<circle cx="501.9" cy="196.9" r="2.45" fill="rgba(20,85,150,0.22)" stroke="rgba(20,85,150,0.35)" stroke-width="1.2"/>
<path d="M315 12.4 V204 H506.9" fill="none" stroke="#111" stroke-width="1.5"/>
<line x1="310.2" y1="196.9" x2="315" y2="196.9" stroke="#111" stroke-width="1.3"/>
<text transform="translate(305.1,200.9) scale(1.08,1)" text-anchor="end" class="t">0</text>
<line x1="310.2" y1="151.9" x2="315" y2="151.9" stroke="#111" stroke-width="1.3"/>
<text transform="translate(305.1,155.9) scale(1.08,1)" text-anchor="end" class="t">20</text>
<line x1="310.2" y1="106.9" x2="315" y2="106.9" stroke="#111" stroke-width="1.3"/>
<text transform="translate(305.1,110.9) scale(1.08,1)" text-anchor="end" class="t">40</text>
<line x1="310.2" y1="61.9" x2="315" y2="61.9" stroke="#111" stroke-width="1.3"/>
<text transform="translate(305.1,65.9) scale(1.08,1)" text-anchor="end" class="t">60</text>
<line x1="310.2" y1="16.9" x2="315" y2="16.9" stroke="#111" stroke-width="1.3"/>
<text transform="translate(305.1,20.9) scale(1.08,1)" text-anchor="end" class="t">80</text>
<line x1="321.9" y1="204" x2="321.9" y2="208.6" stroke="#111" stroke-width="1.3"/>
<text transform="translate(321.9,224.6) scale(1.08,1)" text-anchor="middle" class="t">0</text>
<line x1="366.9" y1="204" x2="366.9" y2="208.6" stroke="#111" stroke-width="1.3"/>
<text transform="translate(366.9,224.6) scale(1.08,1)" text-anchor="middle" class="t">6</text>
<line x1="411.9" y1="204" x2="411.9" y2="208.6" stroke="#111" stroke-width="1.3"/>
<text transform="translate(411.9,224.6) scale(1.08,1)" text-anchor="middle" class="t">12</text>
<line x1="456.9" y1="204" x2="456.9" y2="208.6" stroke="#111" stroke-width="1.3"/>
<text transform="translate(456.9,224.6) scale(1.08,1)" text-anchor="middle" class="t">18</text>
<line x1="501.9" y1="204" x2="501.9" y2="208.6" stroke="#111" stroke-width="1.3"/>
<text transform="translate(501.9,224.6) scale(1.08,1)" text-anchor="middle" class="t">24</text>
<text class="c" transform="translate(145.3,244.8) scale(0.64,1)" text-anchor="middle">Months</text>
<text class="c" transform="translate(411.3,244.8) scale(0.64,1)" text-anchor="middle">Months</text>
<text class="c" transform="translate(22.6,108.6) rotate(-90) scale(0.655,1)" text-anchor="middle">Median total symptom score</text>
<text class="c" transform="translate(281.4,108.9) rotate(-90) scale(0.653,1)" text-anchor="middle">Total symptom score</text>
</svg></div></body></html>
